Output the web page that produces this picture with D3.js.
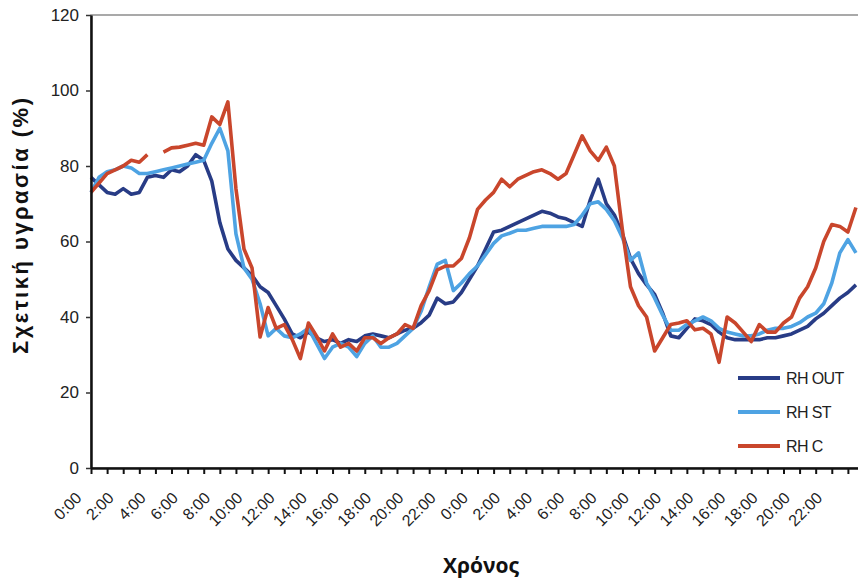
<!DOCTYPE html>
<html>
<head>
<meta charset="utf-8">
<script src="https://cdn.jsdelivr.net/npm/d3@7"></script>
<style>
  body { margin: 0; background: #fff; }
  svg { display: block; font-family: "Liberation Sans", Arial, sans-serif; }
</style>
</head>
<body>
<div id="chart"></div>
<script>
// time in hours since first midnight, half hour steps
var hours = [0,0.5,1,1.5,2,2.5,3,3.5,4,4.5,5,5.5,6,6.5,7,7.5,8,8.5,9,9.5,10,10.5,11,11.5,
  12,12.5,13,13.5,14,14.5,15,15.5,16,16.5,17,17.5,18,18.5,19,19.5,20,20.5,21,21.5,22,22.5,23,23.5,
  24,24.5,25,25.5,26,26.5,27,27.5,28,28.5,29,29.5,30,30.5,31,31.5,32,32.5,33,33.5,34,34.5,35,35.5,
  36,36.5,37,37.5,38,38.5,39,39.5,40,40.5,41,41.5,42,42.5,43,43.5,44,44.5,45,45.5,46,46.5,47,47.5];

var rhOut = [77,75,73,72.5,74,72.5,73,77,77.5,77,79,78.5,80,83,81.5,76,65,58,55,53,51,48,46.5,43,
  39.5,35.5,34.5,36,34.5,33.5,34,33,34,33.5,35,35.5,35,34.5,35.5,36.5,37,38.5,40.5,45,43.5,44,46.5,50,
  53.5,58,62.5,63,64,65,66,67,68,67.5,66.5,66,65,64,71,76.5,70,67,62,55.5,51.5,48.5,46,41,
  35,34.5,37,39.5,39,38,36,34.5,34,34,34,34,34.5,34.5,35,35.5,36.5,37.5,39.5,41,43,45,46.5,48.5];

var rhSt = [73,77,78.5,79,80,79.5,78,78,78.5,79,79.5,80,80.5,81,81.5,86,90,84,62,53,50,43.5,35,37,
  35,34.5,35.5,37,33,29,32,33,32,29.5,33,35,32,32,33,35,37,41.5,48,54,55,47,49,51.5,
  53.5,56.5,59.5,61.5,62.2,63,63,63.5,64,64,64,64,64.5,67,70,70.5,68.5,65.5,61,55,57,49,45,40.5,
  36.5,36.5,38,39,40,39,37,36,35.5,35,35,35.5,36.5,37,37,37.5,38.5,40,41,43.5,49,57,60.5,57];

var rhC = [73,75.5,78,79,80,81.5,81,83,null,83.7,84.8,85,85.5,86,85.5,93,91,97,74,58,53,34.7,42.5,37,
  38,34,29,38.4,35,31,35.5,32,33,31,34.5,34.5,33,34.5,35.5,38,37,43,47,52.5,53.5,53.5,55.5,61,
  68.5,71,73,76.5,74.5,76.5,77.5,78.5,79,78,76.5,78,83,88,84,81.5,85,80,63,48,43,40,31,34.5,
  38,38.4,39,36.6,37,35.5,28,40,38.4,36,33.5,38,36,36,38.4,40,45,48,53,60,64.5,64,62.5,69];

var tickLabels = ["0:00","2:00","4:00","6:00","8:00","10:00","12:00","14:00","16:00","18:00","20:00","22:00",
  "0:00","2:00","4:00","6:00","8:00","10:00","12:00","14:00","16:00","18:00","20:00","22:00"];

var yTicks = [0, 20, 40, 60, 80, 100, 120];

var seriesNames = ["RH OUT", "RH ST", "RH C"];
var seriesColors = ["#283c86", "#4ea3e3", "#c9462c"];

var margin = {top: 15, left: 91},
    width = 773,
    height = 453;

var svg = d3.select("#chart")
  .append("svg")
  .attr("width", 858)
  .attr("height", 578);

var g = svg.append("g")
  .attr("transform", "translate(" + margin.left + "," + margin.top + ")");

var x = d3.scaleLinear().domain([0, 48]).range([0, width]);
var y = d3.scaleLinear().domain([0, 120]).range([height, 0]);

// plot area frame
g.append("rect")
  .attr("width", width)
  .attr("height", height)
  .attr("fill", "none")
  .attr("stroke", "#555")
  .attr("stroke-width", 1);

// series
var line = d3.line()
  .defined(function(d) { return d[1] != null; })
  .x(function(d) { return x(d[0]); })
  .y(function(d) { return y(d[1]); });

[rhOut, rhSt, rhC].forEach(function(vals, i) {
  g.append("path")
    .datum(hours.map(function(h, j) { return [h, vals[j]]; }))
    .attr("fill", "none")
    .attr("stroke", seriesColors[i])
    .attr("stroke-width", 3.6)
    .attr("stroke-linejoin", "round")
    .attr("d", line);
});

// Y axis
var yAxis = g.append("g")
  .call(d3.axisLeft(y).tickValues(yTicks).tickSize(5).tickSizeOuter(0).tickPadding(7));
yAxis.select(".domain").attr("stroke", "#111").attr("stroke-width", 2.5);
yAxis.selectAll(".tick line").attr("stroke", "#333").attr("stroke-width", 1.5);
yAxis.selectAll("text").style("font-size", "17px").attr("fill", "#222");

// X axis
var xAxis = g.append("g")
  .attr("transform", "translate(0," + height + ")")
  .call(d3.axisBottom(x).tickValues(d3.range(0, 48, 1)).tickSize(6).tickSizeOuter(0)
    .tickFormat(function(h) { return h % 2 === 0 ? tickLabels[h / 2] : ""; }));
xAxis.select(".domain").attr("stroke", "#111").attr("stroke-width", 2.5);
xAxis.selectAll(".tick line").attr("stroke", "#111").attr("stroke-width", 2);
xAxis.selectAll("text")
  .style("font-size", "16px")
  .attr("fill", "#222")
  .attr("text-anchor", "end")
  .attr("x", 0)
  .attr("y", 0)
  .attr("dy", 0)
  .attr("transform", "translate(-9,31) rotate(-45)");

// axis titles
svg.append("text")
  .attr("transform", "translate(28,226) rotate(-90)")
  .attr("text-anchor", "middle")
  .style("font-size", "22px")
  .style("font-weight", "bold")
  .attr("fill", "#111")
  .attr("textLength", 256)
  .attr("lengthAdjust", "spacing")
  .text("Σχετική υγρασία (%)");

svg.append("text")
  .attr("x", 481)
  .attr("y", 573)
  .attr("text-anchor", "middle")
  .style("font-family", "'Open Sans', sans-serif")
  .style("font-size", "21px")
  .style("font-weight", "bold")
  .attr("fill", "#111")
  .text("Χρόνος");

// legend
var legend = svg.append("g")
  .attr("transform", "translate(738,378)");

seriesNames.forEach(function(name, i) {
  var row = legend.append("g")
    .attr("transform", "translate(0," + (i * 34) + ")");
  row.append("line")
    .attr("x1", 0).attr("x2", 42)
    .attr("stroke", seriesColors[i])
    .attr("stroke-width", 4);
  row.append("text")
    .attr("x", 48)
    .attr("y", 6)
    .style("font-size", "16px")
    .style("letter-spacing", "-0.6px")
    .attr("fill", "#222")
    .text(name);
});
</script>
</body>
</html>
